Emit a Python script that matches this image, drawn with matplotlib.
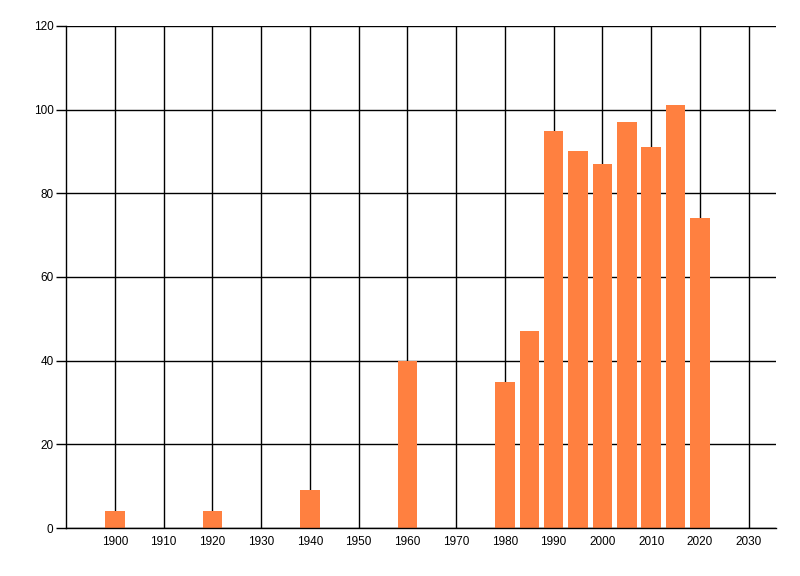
import numpy as np
import matplotlib
matplotlib.use('Agg')

import matplotlib.pyplot as plt


years = [1900, 1920, 1940, 1960, 1980, 1985, 1990, 1995, 2000, 2005, 2010, 2015, 2020]
counts = [4, 4, 9, 40, 35, 47, 95, 90, 87, 97, 91, 101, 74]

x_ticks = list(range(1900, 2031, 10))
y_ticks = list(range(0, 121, 20))

plt.rcParams['font.family'] = ['Liberation Sans', 'DejaVu Sans']

fig = plt.figure(figsize=(8, 5.76), dpi=100)
ax = fig.add_axes([0.0825, 0.0833, 0.8875, 0.8716])

ax.set_axisbelow(True)
ax.grid(True, color='black', linewidth=1.0)
ax.bar(years, counts, width=4, color='#FF8040', zorder=2)

ax.set_xlim(1890, 2035.6)
ax.set_ylim(0, 120)
ax.set_xticks(x_ticks)
ax.set_yticks(y_ticks)
ax.tick_params(axis='x', length=0, pad=6, labelsize=8.5)
ax.tick_params(axis='y', length=7, width=1.0, pad=2, labelsize=8.5)

for side in ['top', 'right']:
    ax.spines[side].set_visible(False)
for side in ['left', 'bottom']:
    ax.spines[side].set_linewidth(1.0)

fig.savefig('out.png', dpi=100)
plt.close()
